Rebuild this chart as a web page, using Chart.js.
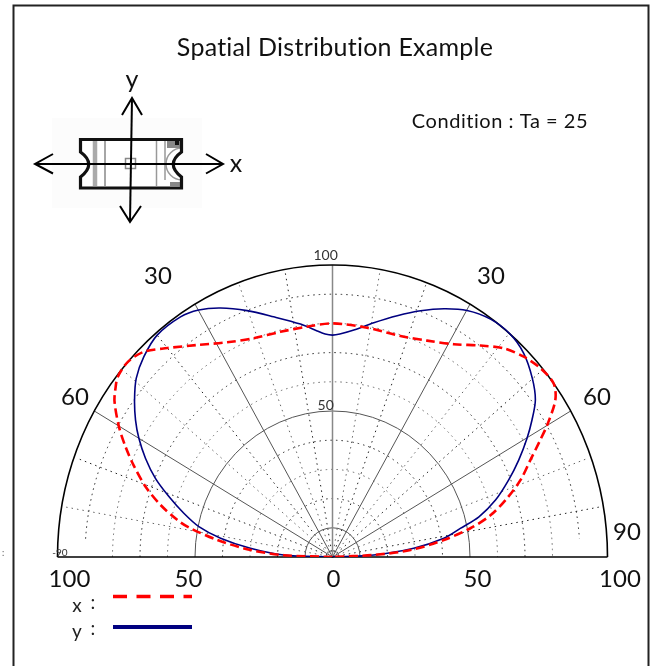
<!DOCTYPE html>
<html>
<head>
<meta charset="utf-8">
<style>html,body{margin:0;padding:0;background:#fff}#w{width:653px;height:666px;position:relative}</style>
<script src="https://cdn.jsdelivr.net/npm/chart.js@4"></script>
</head>
<body>
<div id="w"><canvas id="c" width="653" height="666"></canvas></div>
<script>
const titleText = "Spatial Distribution Example";
const conditionText = "Condition : Ta = 25";
const seriesNames = ["x", "y"];
const xAngles = [-90,-88,-85.4,-82.1,-79.1,-77.3,-74.1,-70.5,-66.5,-63.3,-60.1,-56.1,-53.9,-51.7,-48,-44.3,-40,-34.1,-27.5,-20.9,-13.8,-6.7,0,9.1,18.1,24.9,31.2,36.6,41.1,45.4,49.5,53.5,56.4,59.7,62.3,65.2,68.9,72.4,76,78.9,81.8,85.2,87.3,90];
const xValues = [0,17.7,29.9,42.3,53,57.9,65,72.1,78.9,84.3,89.6,95.5,97.7,99.5,100,98.2,93.4,87.7,82.9,80.2,79.4,79.4,80,79.5,79.6,81.7,85.2,90.2,94.8,97.7,99.5,100,97.3,90.7,85,79.3,73.3,66.6,59.3,51.1,40.9,28.5,15,0];
const yAngles = [-90,-87.8,-84.3,-81,-77.9,-74.5,-70.8,-67.3,-63.6,-60,-56.8,-53.2,-49.4,-45,-40,-33.9,-29.9,-25.5,-20.2,-14.6,-8.3,-4.1,-2,0,2,5.7,10.6,15.9,20.8,25.5,30.1,35.2,40.2,44.9,49.9,53.9,57.1,60.1,63.9,67.6,71.8,75.5,78.1,81,84.2,87.3,90];
const yValues = [0,17.8,30,41.2,49.7,56.1,63,69.8,75.9,81.3,85.6,89.9,94,97,99.2,99.1,97.6,94.5,89.9,85,80.6,77.6,76.4,76,76.4,78.1,81.6,85.9,90.2,94.2,97.6,99.7,100,98.5,95,91.3,86.4,81.6,75.4,69.3,62.4,55,47.5,41,29.7,15,0];
const solidRadii = [10, 50];
const dottedRadii = [20, 30, 40, 60, 70, 80, 90];
const solidSpokes = [-60, -30, 30, 60];
const dottedSpokes = [-80, -70, -50, -40, -20, -10, 10, 20, 40, 50, 70, 80];
const radialLabels = [[50, "50", 6], [100, "100", 10]];
const baseTicks = [-100, -50, 0, 50, 100];

const FONT = '"Lato", sans-serif';
const rad = d => d * Math.PI / 180;
const toPoints = (a, v) => a.map((d, i) => ({ x: v[i] * Math.sin(rad(d)), y: v[i] * Math.cos(rad(d)) }));

function line(ctx, pts, color, w, dash) {
  ctx.save();
  ctx.beginPath();
  pts.forEach((p, i) => i ? ctx.lineTo(p[0], p[1]) : ctx.moveTo(p[0], p[1]));
  ctx.strokeStyle = color; ctx.lineWidth = w; ctx.setLineDash(dash || []);
  ctx.stroke();
  ctx.restore();
}
function text(ctx, s, x, y, size, color, ls) {
  ctx.save();
  ctx.font = size + 'px ' + FONT;
  ctx.letterSpacing = ls || '0px';
  ctx.fillStyle = color || '#111';
  ctx.textAlign = 'center';
  ctx.textBaseline = 'middle';
  ctx.fillText(s, x, y);
  ctx.restore();
}

const polarGrid = {
  id: 'polarGrid',
  afterLayout(chart) {
    // the reference title sits slightly right of the plot centre
    chart.titleBlock.left += 5;
  },
  beforeDraw(chart) {
    chart.ctx.letterSpacing = '0.25px';
  },
  beforeDatasetsDraw(chart) {
    const { ctx, scales: { x: sx, y: sy } } = chart;
    ctx.letterSpacing = '0px';
    const P = (r, d) => [sx.getPixelForValue(r * Math.sin(rad(d))), sy.getPixelForValue(r * Math.cos(rad(d)))];
    const arc = (r, a0, a1, color, w, dash) => {
      ctx.save();
      ctx.beginPath();
      const cx = sx.getPixelForValue(0), cy = sy.getPixelForValue(0);
      const rx = sx.getPixelForValue(r) - cx, ry = cy - sy.getPixelForValue(r);
      ctx.ellipse(cx, cy, rx, ry, 0, rad(a0 - 90), rad(a1 - 90));
      ctx.strokeStyle = color; ctx.lineWidth = w; ctx.setLineDash(dash || []);
      ctx.stroke();
      ctx.restore();
    };
    dottedSpokes.forEach((d, i) => line(ctx, [P(0, d), P(99, d)], i % 2 ? '#222' : '#666', 1, [1.5, 4]));
    dottedRadii.forEach((r, i) => { const m = r === 90 ? 86 : 90; arc(r, -m, m, i % 2 ? '#666' : '#222', 1, [1.5, 4]); });
    solidSpokes.forEach(d => line(ctx, [P(0, d), P(100, d)], '#555', 1));
    solidRadii.forEach(r => arc(r, -90, 90, '#555', 1));
    line(ctx, [P(0, 0), P(100, 0)], '#888', 1.5);
    arc(100, -90, 90, '#000', 1.6);
    line(ctx, [P(100, -90), P(100, 90)], '#000', 1.6);
  },
  afterDatasetsDraw(chart) {
    const { ctx, scales: { x: sx, y: sy } } = chart;
    radialLabels.forEach(([r, s, off]) => text(ctx, s, sx.getPixelForValue(-2.5), sy.getPixelForValue(r) - off, 14, '#333'));
    text(ctx, "-90", 60, 553, 10, '#333');
    baseTicks.forEach(v => {
      const t = String(Math.abs(v));
      const off = v === -100 ? 12 : v === 100 ? 12.5 : v === -50 ? -6.5 : v === 50 ? 7.5 : 1;
      text(ctx, t, sx.getPixelForValue(v) + off, 579, 24, '#111');
    });
    text(ctx, "30", 158, 276, 24, '#111');
    text(ctx, "30", 491, 276, 24, '#111');
    text(ctx, "60", 75, 397, 24, '#111');
    text(ctx, "60", 597, 397, 24, '#111');
    text(ctx, "90", 627, 532, 24, '#111');
  }
};

const furniture = {
  id: 'furniture',
  afterDraw(chart) {
    const { ctx } = chart;
    // frame
    line(ctx, [[13.5, 666], [13.5, 5.5], [648.5, 5.5], [648.5, 666]], '#222', 2);
    text(ctx, ":", 3, 553, 9, '#555');
    text(ctx, conditionText, 500, 121.5, 20, '#111', '0.55px');
    // legend
    const ds = chart.data.datasets;
    text(ctx, seriesNames[0], 77, 606, 19, '#222');
    text(ctx, ":", 93, 603, 19, '#222');
    text(ctx, seriesNames[1], 77, 632, 19, '#222');
    text(ctx, ":", 93, 629, 19, '#222');
    line(ctx, [[113, 596.5], [192, 596.5]], ds[0].borderColor, 3.5, [14, 9.5]);
    line(ctx, [[113, 627], [192, 627]], ds[1].borderColor, 4);

    // chip icon
    ctx.save();
    ctx.fillStyle = '#fcfcfc'; ctx.fillRect(52, 118, 150, 90);
    ctx.fillStyle = '#fff'; ctx.fillRect(82, 141, 98, 45);
    line(ctx, [[95, 141], [95, 186]], '#aaa', 4.5);
    line(ctx, [[105, 141], [105, 186]], '#888', 1.5);
    line(ctx, [[156.5, 141], [156.5, 186]], '#999', 1.5);
    line(ctx, [[165, 141], [165, 180]], '#999', 1.5);
    ctx.strokeStyle = '#999'; ctx.lineWidth = 1.5;
    ctx.beginPath(); ctx.arc(182, 164, 16, Math.PI * 0.5, Math.PI * 1.5); ctx.stroke();
    ctx.fillStyle = '#888'; ctx.fillRect(167, 141, 13, 7);
    ctx.fillStyle = '#111'; ctx.fillRect(175, 141, 4, 4);
    ctx.fillStyle = '#888'; ctx.fillRect(170, 182, 10, 4);
    ctx.strokeStyle = '#888'; ctx.lineWidth = 1.5; ctx.strokeRect(125.5, 158.5, 10, 10);
    ctx.strokeStyle = '#111'; ctx.lineWidth = 3.2; ctx.lineJoin = 'miter';
    ctx.beginPath();
    ctx.moveTo(80.5, 139.5); ctx.lineTo(181.5, 139.5); ctx.lineTo(181.5, 152);
    ctx.quadraticCurveTo(165, 164, 181.5, 177);
    ctx.lineTo(181.5, 188); ctx.lineTo(80.5, 188); ctx.lineTo(80.5, 177);
    ctx.quadraticCurveTo(97, 164, 80.5, 152);
    ctx.closePath(); ctx.stroke();
    ctx.restore();
    // axes and arrows
    line(ctx, [[132, 98], [130, 222]], '#000', 2);
    line(ctx, [[35, 164], [223, 164]], '#000', 2);
    line(ctx, [[122, 115], [132, 98], [142, 115]], '#000', 2);
    line(ctx, [[120, 206], [130, 222], [141, 206]], '#000', 2);
    line(ctx, [[53, 154], [35, 164], [53, 173.5]], '#000', 2);
    line(ctx, [[206, 154], [223, 164], [206, 173.5]], '#000', 2);
    text(ctx, "y", 132, 80, 25, '#111');
    text(ctx, "x", 236, 164, 25, '#111');
  }
};

new Chart(document.getElementById('c'), {
  type: 'scatter',
  data: {
    datasets: [
      { label: seriesNames[0], data: toPoints(xAngles, xValues), showLine: true, borderColor: '#ff0000', borderWidth: 2.6, borderDash: [9, 4.5], pointRadius: 0, tension: 0.3, order: 1, fill: false },
      { label: seriesNames[1], data: toPoints(yAngles, yValues), showLine: true, borderColor: '#000080', borderWidth: 1.6, pointRadius: 0, tension: 0.3, order: 2, fill: false }
    ]
  },
  options: {
    responsive: false,
    animation: false,
    layout: { padding: { left: 57.5, right: 45.5, top: 0, bottom: 109 } },
    scales: {
      x: { type: 'linear', min: -100, max: 100, display: false },
      y: { type: 'linear', min: 0, max: 100, display: false }
    },
    plugins: {
      legend: { display: false },
      tooltip: { enabled: false },
      title: {
        display: true, text: titleText, fullSize: false, color: '#111',
        font: { family: FONT, size: 25, weight: 'normal', lineHeight: 1.2 },
        padding: { top: 32.5, bottom: 202.5 }
      }
    }
  },
  plugins: [polarGrid, furniture]
});
</script>
</body>
</html>
